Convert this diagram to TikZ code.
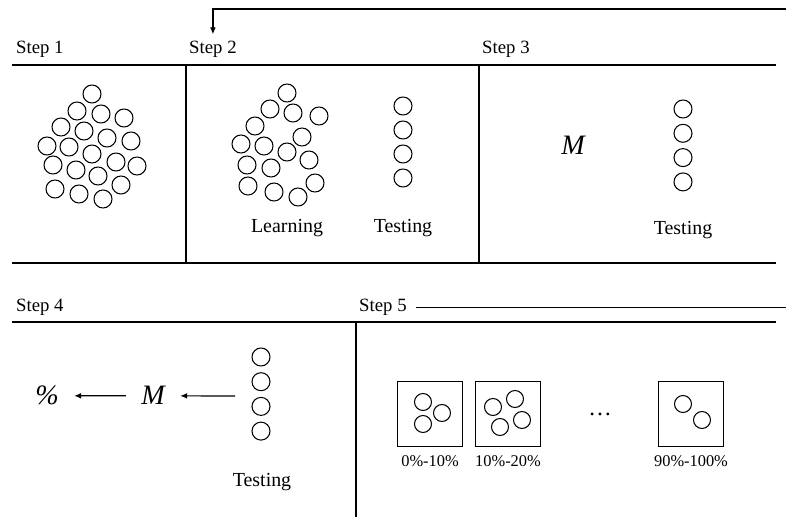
\documentclass[tikz,border=0pt]{standalone}
\usepackage{fontspec}
\setmainfont{Liberation Serif}
\usetikzlibrary{arrows.meta,positioning}

\begin{document}
\begin{tikzpicture}[x=0.03cm,y=-0.03cm,
    steplabel/.style={anchor=base west,inner sep=0pt,font=\fontsize{16}{19}\selectfont},
    caption/.style={anchor=base,inner sep=0pt,font=\fontsize{17}{20}\selectfont},
    binlabel/.style={inner sep=0pt,font=\fontsize{14}{17}\selectfont},
    model/.style={anchor=base,inner xsep=13pt,inner ysep=0pt,font=\fontsize{24}{28}\selectfont\itshape},
    frame/.style={line width=1.1pt},
    ball/.style={line width=0.9pt},
    bin/.style={rectangle,draw,line width=1pt,minimum size=1.95cm,inner sep=0pt},
    arrow/.style={-{Latex[length=6pt,width=5pt]},line width=1pt}
]
\useasboundingbox (0,0) rectangle (786,517);

% === Frame lines ===
\draw[frame] (12,65) -- (776,65);
\draw[frame] (12,263) -- (776,263);
\draw[frame] (12,322) -- (776,322);
\draw[frame] (186,65) -- (186,263);
\draw[frame] (479,65) -- (479,263);
\draw[frame] (356,322) -- (356,517);

% === Step titles ===
\node[steplabel] (s1) at (16,54) {Step 1};
\node[steplabel] (s2) at (189,54) {Step 2};
\node[steplabel] (s3) at (482,54) {Step 3};
\node[steplabel] (s4) at (16,312) {Step 4};
\node[steplabel] (s5) at (359,312) {Step 5};

% feedback arrow into Step 2
\coordinate (fb) at (786,9);
\draw[arrow,shorten >=6pt] (fb) -| (s2.north);
\draw[frame] ([xshift=8pt]s5.east) -- ([xshift=8pt]s5.east -| fb);

% === Step 1: whole data set ===
\foreach \x/\y in {92/94,77/111,101/114,124/118,61/127,84/131,107/138,131/141,
    47/146,69/147,92/154,116/162,137/166,53/165,76/170,98/176,121/185,55/189,79/194,103/199}
    \draw[ball] (\x,\y) circle (9);

% === Step 2: learning / testing split ===
\foreach \x/\y in {287/93,270/109,293/113,319/116,255/126,302/137,241/144,264/146,
    287/152,309/160,247/165,271/168,315/183,248/186,274/192,298/197}
    \draw[ball] (\x,\y) circle (9);
\foreach \k in {0,...,3}
    \draw[ball] (403,106+24*\k) circle (9);
\node[caption] (learn) at (287,233) {Learning};
\node[caption] (test2) at (403,233) {Testing};

% === Step 3: model on testing set ===
\node[model] (m3) at (573,155) {M};
\foreach \k in {0,...,3}
    \draw[ball] (683,109+24.3*\k) circle (9);
\node[caption] (test3) at (683,235) {Testing};

% === Step 4 ===
\node[model] (pct) at (47,405) {\%};
\node[model] (m4) at (153,405) {M};
\foreach \k in {0,...,3}
    \draw[ball] (261,357+24.7*\k) circle (9);
\node[caption] (test4) at (262,486) {Testing};
\coordinate (t4) at (235,396);
\draw[arrow] (t4) -- (m4);
\draw[arrow] (m4) -- (pct);

% === Step 5: bins ===
\node[bin] (b1) at (430,414) {};
\node[bin] (b2) at (508,414) {};
\node[bin] (b3) at (691,414) {};
\node[binlabel,below=7pt of b1] (l1) {0\%-10\%};
\node[binlabel,below=7pt of b2] (l2) {10\%-20\%};
\node[binlabel,below=7pt of b3] (l3) {90\%-100\%};
\node[caption,font=\fontsize{20}{24}\selectfont] (gap) at (600,415) {\dots};

\foreach \x/\y in {423/402,442/413,423/424, 493/407,515/399,522/420,500/427, 683/404,702/420}
    \draw[ball] (\x,\y) circle (8.5);

\end{tikzpicture}
\end{document}
